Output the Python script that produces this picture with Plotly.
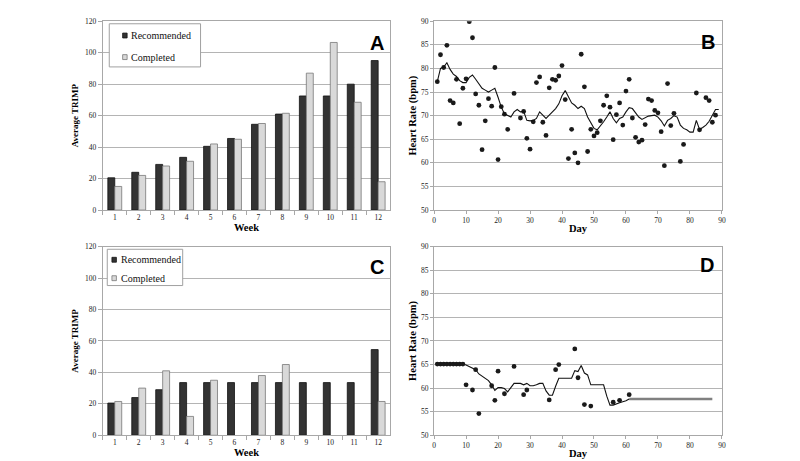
import plotly.graph_objects as go

# ---------------- data ----------------
weeks = [str(w) for w in range(1, 13)]
series_names = ["Recommended", "Completed"]

a_recommended = [20.5, 24, 29, 33.5, 40.5, 45.5, 54.5, 61, 72.5, 72.5, 80, 95]
a_completed = [15, 22, 28, 31, 42, 45, 55, 61.5, 87, 106.5, 68.5, 18]

c_recommended = [20.5, 24, 29, 33.5, 33.5, 33.5, 33.5, 33.5, 33.5, 33.5, 33.5, 54.5]
c_completed = [21.5, 30, 41, 12, 35, None, 38, 45, None, None, None, 21.5]

b_days = [1, 2, 3, 4, 5, 6, 7, 8, 9, 10, 11, 12, 13, 14, 15, 16, 17, 18, 19, 20,
          21, 22, 23, 25, 27, 28, 29, 30, 31, 32, 33, 34, 35, 36, 37, 38, 39, 40,
          41, 42, 43, 44, 45, 46, 47, 48, 49, 50, 51, 52, 53, 54, 55, 56, 57, 58,
          59, 60, 61, 62, 63, 64, 65, 66, 67, 68, 69, 70, 71, 72, 73, 74, 75, 77,
          78, 82, 83, 85, 86, 87, 88]
b_hr = [77.2, 82.9, 80.2, 84.9, 73.2, 72.7, 77.7, 68.3, 75.8, 77.8, 89.9, 86.5,
        74.6, 72.2, 62.8, 68.9, 73.6, 72.0, 80.2, 60.7, 71.9, 70.3, 67.1, 74.7,
        69.5, 70.9, 65.2, 62.9, 68.7, 77.0, 78.2, 68.6, 65.8, 75.9, 77.7, 77.5,
        78.4, 80.6, 73.4, 60.9, 67.1, 62.1, 60.0, 83.0, 76.1, 62.4, 67.1, 65.7,
        66.4, 68.9, 72.2, 74.2, 71.8, 64.9, 70.2, 72.7, 68.0, 75.2, 77.7, 69.5,
        65.4, 64.4, 64.8, 68.1, 73.5, 73.2, 71.1, 70.6, 66.6, 59.4, 76.8, 67.9,
        70.5, 60.3, 63.9, 74.8, 67.0, 73.8, 73.2, 68.6, 70.1]

b_line_days = list(range(1, 90))
b_line_hr = [77.2, 80.0, 80.3, 81.2, 79.8, 78.8, 78.3, 77.4, 77.0, 77.0,
             78.1, 78.6, 77.7, 76.7, 75.8, 75.4, 75.0, 75.4, 75.8, 73.9,
             71.8, 70.4, 70.0, 69.7, 70.8, 71.3, 70.8, 70.9, 69.0, 68.9,
             69.0, 69.4, 70.8, 70.1, 69.4, 70.1, 70.8, 71.5, 72.5, 74.2,
             75.3, 73.9, 72.7, 72.2, 71.5, 72.0, 71.5, 69.7, 68.4, 67.3,
             67.0, 67.8, 68.7, 69.7, 70.8, 69.4, 68.5, 69.4, 69.7, 70.8,
             71.7, 71.5, 70.6, 69.7, 69.2, 69.5, 69.9, 70.0, 70.1, 69.7,
             68.9, 67.8, 69.0, 69.4, 70.0, 69.7, 68.0, 67.3, 67.0, 66.5,
             66.5, 69.0, 67.1, 67.5, 68.0, 68.8, 70.1, 71.3, 71.3]

d_days = [1, 2, 3, 4, 5, 6, 7, 8, 9, 10, 12, 13, 14, 18, 19, 20, 22, 25, 28, 29,
          36, 38, 39, 44, 45, 47, 49, 56, 58, 61]
d_hr = [65.1, 65.1, 65.1, 65.1, 65.1, 65.1, 65.1, 65.1, 65.1, 60.7, 59.6, 63.9,
        54.6, 60.5, 57.4, 63.6, 58.8, 64.6, 58.6, 59.6, 57.5, 63.9, 65.0, 68.3,
        62.2, 56.5, 56.2, 57.0, 57.4, 58.6]

d_line_days = list(range(1, 62))
d_line_hr = [65.1, 65.1, 65.1, 65.1, 65.1, 65.1, 65.1, 65.1, 65.1, 64.9,
             64.6, 64.2, 63.9, 63.0, 62.5, 62.1, 61.6, 60.7, 59.5, 60.1,
             60.1, 59.9, 59.2, 60.1, 61.0, 61.0, 61.0, 60.7, 61.0, 60.5,
             60.5, 60.7, 61.0, 61.0, 59.4, 58.5, 58.5, 60.4, 62.1, 62.1,
             62.1, 62.1, 62.1, 63.7, 63.5, 64.8, 63.2, 62.8, 60.7, 60.7,
             60.7, 60.7, 60.7, 58.3, 56.4, 56.4, 56.7, 56.9, 57.1, 57.3,
             57.7]
d_tail_days = [61, 87]
d_tail_hr = [57.7, 57.7]

# ---------------- styles ----------------
DARK = "#333333"
DARK_EDGE = "#111111"
LIGHT = "#d9d9d9"
LIGHT_EDGE = "#777777"
GRID = "#b4b4b4"
AXIS = "#a8a8a8"
SERIF = "Liberation Serif"
SANS = "Liberation Sans"

fig = go.Figure()

# Panel A
fig.add_trace(go.Bar(x=weeks, y=a_recommended, name=series_names[0],
                     marker=dict(color=DARK, line=dict(color=DARK_EDGE, width=0.8)),
                     xaxis="x", yaxis="y", showlegend=False))
fig.add_trace(go.Bar(x=weeks, y=a_completed, name=series_names[1],
                     marker=dict(color=LIGHT, line=dict(color=LIGHT_EDGE, width=0.8)),
                     xaxis="x", yaxis="y", showlegend=False))
# Panel C
fig.add_trace(go.Bar(x=weeks, y=c_recommended, name=series_names[0],
                     marker=dict(color=DARK, line=dict(color=DARK_EDGE, width=0.8)),
                     xaxis="x3", yaxis="y3", showlegend=False))
fig.add_trace(go.Bar(x=weeks, y=c_completed, name=series_names[1],
                     marker=dict(color=LIGHT, line=dict(color=LIGHT_EDGE, width=0.8)),
                     xaxis="x3", yaxis="y3", showlegend=False))
# Panel B
fig.add_trace(go.Scatter(x=b_days, y=b_hr, mode="markers",
                         marker=dict(color="#1a1a1a", size=4.8),
                         xaxis="x2", yaxis="y2", showlegend=False))
fig.add_trace(go.Scatter(x=b_line_days, y=b_line_hr, mode="lines",
                         line=dict(color="#111111", width=1.1),
                         xaxis="x2", yaxis="y2", showlegend=False))
# Panel D
fig.add_trace(go.Scatter(x=d_tail_days, y=d_tail_hr, mode="lines",
                         line=dict(color="#808080", width=2.5),
                         xaxis="x4", yaxis="y4", showlegend=False))
fig.add_trace(go.Scatter(x=d_line_days, y=d_line_hr, mode="lines",
                         line=dict(color="#111111", width=1.1),
                         xaxis="x4", yaxis="y4", showlegend=False))
fig.add_trace(go.Scatter(x=d_days, y=d_hr, mode="markers",
                         marker=dict(color="#1a1a1a", size=4.8),
                         xaxis="x4", yaxis="y4", showlegend=False))

W, H = 800, 461
left_dom = [93.5 / W, 383 / W]
right_dom = [427.3 / W, 717.3 / W]
top_dom = [1 - 202 / H, 1 - 9.4 / H]
bot_dom = [1 - 431.7 / H, 1 - 239.3 / H]

tickfont = dict(family=SERIF, size=7.5, color="#222222")
titlefont = dict(family=SERIF, size=10.5, color="#000000", weight="bold")


def cat_x(anchor, domain):
    return dict(domain=domain, anchor=anchor, type="category",
                showline=True, linecolor=AXIS, linewidth=1, mirror=True,
                ticks="outside", tickson="boundaries", ticklen=4, tickcolor=AXIS,
                showgrid=False, tickfont=tickfont,
                title=dict(text="Week", font=titlefont, standoff=0))


def num_x(anchor, domain):
    return dict(domain=domain, anchor=anchor, range=[0, 90], dtick=10,
                showline=True, linecolor=AXIS, linewidth=1, mirror=True,
                ticks="outside", ticklen=3, tickcolor=AXIS,
                showgrid=False, zeroline=False, tickfont=tickfont,
                title=dict(text="Day", font=titlefont, standoff=0))


def trimp_y(anchor, domain):
    return dict(domain=domain, anchor=anchor, range=[0, 120], dtick=20,
                showline=True, linecolor=AXIS, linewidth=1, mirror=True,
                ticks="outside", ticklen=4, tickcolor=AXIS,
                showgrid=True, gridcolor=GRID, gridwidth=1, zeroline=False,
                tickfont=tickfont,
                title=dict(text="Average TRIMP",
                           font=dict(family=SERIF, size=9, color="#000000", weight="bold"),
                           standoff=4))


def hr_y(anchor, domain):
    return dict(domain=domain, anchor=anchor, range=[50, 90], dtick=5,
                showline=True, linecolor=AXIS, linewidth=1, mirror=True,
                ticks="outside", ticklen=3, tickcolor=AXIS,
                showgrid=True, gridcolor=GRID, gridwidth=1, zeroline=False,
                tickfont=tickfont,
                title=dict(text="Heart Rate (bpm)", font=titlefont, standoff=2))


fig.update_layout(
    width=W, height=H,
    margin=dict(l=0, r=0, t=0, b=0),
    paper_bgcolor="white", plot_bgcolor="white",
    barmode="group", bargap=0.42, bargroupgap=0,
    xaxis=cat_x("y", left_dom),
    yaxis=trimp_y("x", top_dom),
    xaxis2=num_x("y2", right_dom),
    yaxis2=hr_y("x2", top_dom),
    xaxis3=cat_x("y3", left_dom),
    yaxis3=trimp_y("x3", bot_dom),
    xaxis4=num_x("y4", right_dom),
    yaxis4=hr_y("x4", bot_dom),
    showlegend=False,
)

# ---------------- legends (drawn as boxes + keys + text) ----------------
def px(x):
    return x / W


def py(y):
    return 1 - y / H


legend_font = dict(family=SERIF, size=10, color="#111111")
legends = [
    dict(box=(100, 12, 192, 56), kx=113.5, tx=120, rows=(24, 46)),
    dict(box=(98, 242, 174, 279), kx=102.7, tx=109.5, rows=(252.7, 271.5)),
]
fills = [(DARK, DARK_EDGE), (LIGHT, LIGHT_EDGE)]
for lg in legends:
    x0, y0, x1, y1 = lg["box"]
    fig.add_shape(type="rect", xref="paper", yref="paper",
                  x0=px(x0), y0=py(y1), x1=px(x1), y1=py(y0),
                  line=dict(color="#a0a0a0", width=1), fillcolor="white", layer="above")
    for name, ry, (fc, ec) in zip(series_names, lg["rows"], fills):
        fig.add_shape(type="rect", xref="paper", yref="paper",
                      x0=px(lg["kx"]), y0=py(ry + 2.5), x1=px(lg["kx"] + 4.5), y1=py(ry - 2.5),
                      line=dict(color=ec, width=0.8), fillcolor=fc, layer="above")
        fig.add_annotation(text=name, x=px(lg["tx"]), y=py(ry), xref="paper", yref="paper",
                           showarrow=False, font=legend_font, xanchor="left", yanchor="middle")

letter_font = dict(family=SANS, size=20, color="#000000", weight="bold")
for txt, lx, ly in [("A", 370, 32), ("B", 703.5, 31), ("C", 370, 260), ("D", 702, 258)]:
    fig.add_annotation(text=txt, x=px(lx), y=py(ly), xref="paper", yref="paper",
                       showarrow=False, font=letter_font, xanchor="center", yanchor="middle")

fig.write_html("out.html")
